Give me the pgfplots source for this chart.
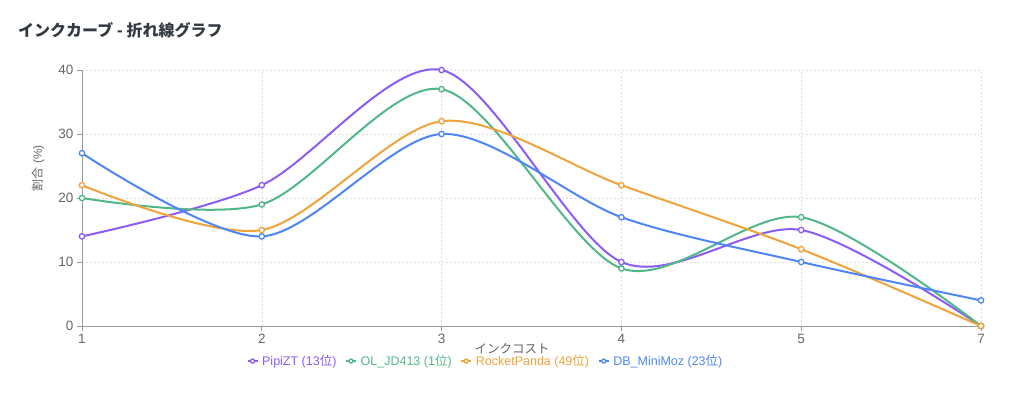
\documentclass[border=0pt]{standalone}
\usepackage{fontspec}
\setmainfont{Liberation Sans}
\newfontfamily\jp{Noto Sans CJK JP}
\usepackage{pgfplots}
\pgfplotsset{compat=1.18}
\definecolor{cpur}{HTML}{8B5CF6}
\definecolor{cgrn}{HTML}{52B788}
\definecolor{corg}{HTML}{F0A33A}
\definecolor{cblu}{HTML}{4F86F7}
\definecolor{titlegray}{HTML}{333A44}
\definecolor{tickgray}{HTML}{666666}
\definecolor{axgray}{HTML}{999999}
\definecolor{gridgray}{HTML}{DDDDDD}
\begin{document}
\begin{tikzpicture}
\path[use as bounding box] (0pt,0pt) rectangle (1024pt,392pt);
\node[anchor=west, font=\fontsize{16}{19}\selectfont\jp\bfseries, text=titlegray, inner sep=0pt] at (18pt,362pt) {インクカーブ - 折れ線グラフ};
\node[font=\fontsize{12}{14}\selectfont, text=tickgray, rotate=90] at (38pt,224pt) {{\jp 割合} (\%)};
\node[font=\fontsize{12.5}{14}\selectfont\jp, text=tickgray] at (512pt,43pt) {インクコスト};
\begin{axis}[
  at={(82pt,66pt)}, anchor=south west,
  scale only axis, width=899pt, height=256pt,
  xmin=0, xmax=5, ymin=0, ymax=40,
  xtick={0,1,2,3,4,5}, xticklabels={1,2,3,4,5,7},
  ytick={0,10,20,30,40},
  axis x line*=bottom, axis y line*=left,
  axis line style={axgray, line width=0.8pt, -},
  tick align=outside, major tick length=5pt,
  tick style={axgray, line width=0.8pt},
  tick label style={font=\fontsize{13.5}{16}\selectfont, text=tickgray},
  /pgf/number format/assume math mode=true,
  grid=major,
  grid style={dash pattern=on 2pt off 2pt, gridgray, line width=0.6pt},
  every axis plot/.append style={line width=2pt, smooth, tension=0.5, mark=*, mark size=2.7pt},
  legend style={at={(axis description cs:0.449,-0.137)}, anchor=center, draw=none, fill=none,
    legend columns=4, font=\fontsize{12.5}{15}\selectfont,
    /tikz/every odd column/.append style={column sep=2pt},
    /tikz/every even column/.append style={column sep=7pt},
    inner sep=0pt},
  legend cell align=left,
  legend image code/.code={\draw[mark repeat=2,mark phase=2,#1,line width=1.2pt, mark size=2pt] plot coordinates {(0pt,0pt)(5pt,0pt)(10pt,0pt)};},
  clip=false,
]
\addplot[cpur, mark options={fill=white, draw=cpur, line width=1.3pt}] coordinates {(0,14)(1,22)(2,40)(3,10)(4,15)(5,0)};
\addlegendentry{\textcolor{cpur}{PipiZT (13{\jp 位})}}
\addplot[cgrn, mark options={fill=white, draw=cgrn, line width=1.3pt}] coordinates {(0,20)(1,19)(2,37)(3,9)(4,17)(5,0)};
\addlegendentry{\textcolor{cgrn}{OL\_JD413 (1{\jp 位})}}
\addplot[corg, mark options={fill=white, draw=corg, line width=1.3pt}] coordinates {(0,22)(1,15)(2,32)(3,22)(4,12)(5,0)};
\addlegendentry{\textcolor{corg}{RocketPanda (49{\jp 位})}}
\addplot[cblu, mark options={fill=white, draw=cblu, line width=1.3pt}] coordinates {(0,27)(1,14)(2,30)(3,17)(4,10)(5,4)};
\addlegendentry{\textcolor{cblu}{DB\_MiniMoz (23{\jp 位})}}
\end{axis}
\end{tikzpicture}
\end{document}
